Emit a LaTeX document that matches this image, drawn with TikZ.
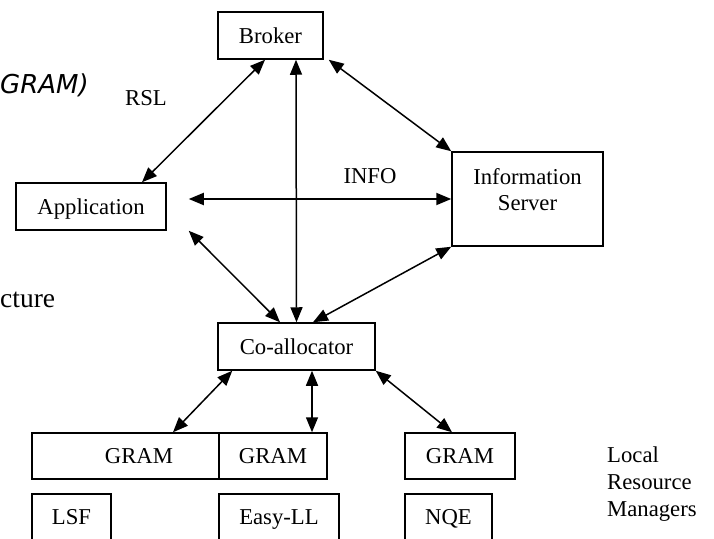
\documentclass[tikz,border=0pt]{standalone}
\usepackage{fontspec}
\setmainfont{Liberation Serif}
\newfontfamily\verdanalike{DejaVu Sans}
\usetikzlibrary{arrows.meta}
\begin{document}
\begin{tikzpicture}[x=1pt,y=-1pt,
  box/.style={draw,line width=1.5pt,minimum height=46pt,inner sep=0pt,fill=white,
    font=\fontsize{22.7}{26}\selectfont,align=center,text height=15pt,text depth=0pt},
  conn/.style={line width=1.5pt,{Triangle[length=15pt,width=12pt]}-{Triangle[length=15pt,width=12pt]}},
  lbl/.style={inner sep=0pt,font=\fontsize{22.7}{27}\selectfont}]
\path[use as bounding box, clip] (0,0) rectangle (714,538);
\fill[white] (0,0) rectangle (714,538);

% boxes
\node[box,minimum width=105pt,minimum height=47pt] (broker) at (270.5,35.5) {Broker};
\node[box,minimum width=150pt,minimum height=47pt] (app) at (91,206.5) {Application};
\node[box,minimum width=151pt,minimum height=94pt,
  label={[lbl,align=center,font=\fontsize{22.7}{26}\selectfont,yshift=9pt]center:Information\\Server}] (info) at (527.5,199) {};
\node[box,minimum width=157pt,minimum height=47pt] (coal) at (296.5,346.5) {Co-allocator};
\node[box,minimum width=226pt] (gram1) at (145,456) {\hspace*{-12pt}GRAM};
\node[box,minimum width=108pt] (gram2) at (273,456) {GRAM};
\node[box,minimum width=110pt] (gram3) at (460,456) {GRAM};
\node[box,minimum width=79pt] (lsf) at (71.5,517) {LSF};
\node[box,minimum width=120pt] (easy) at (279,517) {Easy-LL};
\node[box,minimum width=87pt] (nqe) at (448.5,517) {NQE};

% texts
\node[lbl] (rsl) at (146,98) {RSL};
\node[lbl] (infolbl) at (370,176) {INFO};
\node[lbl,anchor=west,align=left] (lrm) at (607,484) {Local\\Resource\\Managers};
\node[inner sep=0pt,anchor=base west,font=\verdanalike\itshape\fontsize{26}{28}\selectfont] (gramtxt) at (0,93) {GRAM)};
\node[inner sep=0pt,anchor=base west,font=\fontsize{27.5}{30}\selectfont] (ctxt) at (0,307) {cture};

% helper coordinate
\coordinate (appR) at ([xshift=22pt]app.east);

% connectors
\draw[conn] ([xshift=51pt]app.north) -- ([xshift=-5.5pt]broker.south);
\draw[conn] ([xshift=25.5pt]broker.south) -- (coal.north);
\draw[conn] ([xshift=5pt]broker.south east) -- (info.north west);
\draw[conn,line width=1.9pt] (info.west -| appR) -- (info.west);
\draw[conn] ([xshift=22pt]app.south east) -- ([xshift=-16.5pt]coal.north);
\draw[conn] (info.south west) -- ([xshift=16.5pt]coal.north);
\draw[conn] ([xshift=15pt]coal.south west) -- ([xshift=28pt]gram1.north);
\draw[conn] ([xshift=15.5pt]coal.south) -- ([xshift=39pt]gram2.north);
\draw[conn] (coal.south east) -- ([xshift=-8pt]gram3.north);
\end{tikzpicture}
\end{document}
